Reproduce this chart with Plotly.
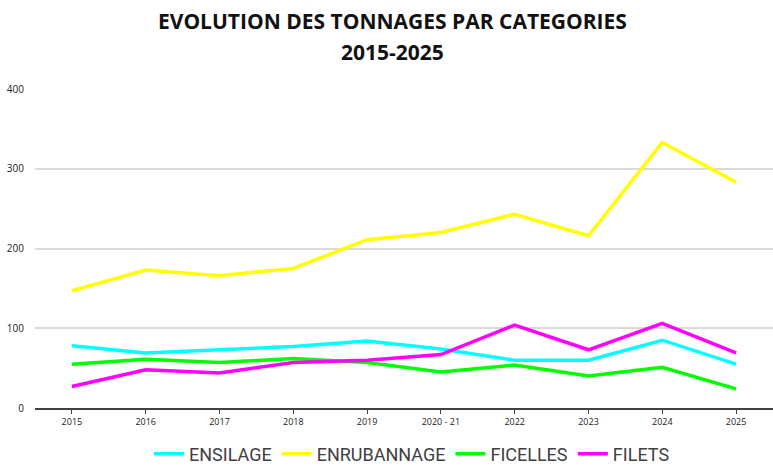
import plotly.graph_objects as go

categories = ["2015", "2016", "2017", "2018", "2019", "2020 - 21", "2022", "2023", "2024", "2025"]
ensilage = [78, 69, 73, 77, 84, 74, 60, 60, 85, 55]
enrubannage = [147, 173, 166, 175, 211, 220, 243, 216, 333, 283]
ficelles = [55, 61, 57, 62, 57, 45, 54, 40, 51, 24]
filets = [27, 48, 44, 57, 60, 67, 104, 73, 106, 69]

series = [
    ("ENSILAGE", ensilage, "#00FFFF"),
    ("ENRUBANNAGE", enrubannage, "#FFFF00"),
    ("FICELLES", ficelles, "#00FF00"),
    ("FILETS", filets, "#FF00FF"),
]

fig = go.Figure()
for name, vals, col in series:
    fig.add_trace(go.Scatter(x=categories, y=vals, name=name, mode="lines",
                             line=dict(color=col, width=3.5)))

plot_h = 466 - 89 - 58
plot_w = 773 - 35

fig.update_layout(
    width=773, height=466,
    margin=dict(l=35, r=0, t=89, b=58, autoexpand=False),
    paper_bgcolor="white", plot_bgcolor="white",
    showlegend=True,
    legend=dict(orientation="h", x=(412 - 35) / plot_w, xanchor="center",
                y=-(454 - 408) / plot_h, yanchor="middle",
                font=dict(family="Roboto", size=18, color="#404040"),
                itemwidth=30, tracegroupgap=0),
    xaxis=dict(type="category", range=[-0.5, 9.5], showgrid=False, automargin=False,
               showline=True, linecolor="#404040", linewidth=1.5,
               ticks="outside", ticklen=4, tickcolor="#404040",
               tickfont=dict(family="Open Sans", size=9, color="#222"),
               fixedrange=True),
    yaxis=dict(range=[0, 400], tickvals=[0, 100, 200, 300, 400], automargin=False,
               showgrid=True, gridcolor="#d9d9d9", gridwidth=1.5,
               zeroline=False, showline=False, ticks="",
               ticklabelstandoff=10,
               tickfont=dict(family="Open Sans", size=10, color="#222")),
    annotations=[
        dict(text="<b>EVOLUTION DES TONNAGES PAR CATEGORIES</b>", xref="paper", yref="paper",
             x=(392 - 35) / plot_w, y=(408 - 20.5) / plot_h, xanchor="center", yanchor="middle",
             showarrow=False, font=dict(family="Open Sans", size=21, color="#111")),
        dict(text="<b>2015-2025</b>", xref="paper", yref="paper",
             x=(392 - 35) / plot_w, y=(408 - 52.5) / plot_h, xanchor="center", yanchor="middle",
             showarrow=False, font=dict(family="Open Sans", size=21, color="#111")),
    ],
)

fig.write_html("out.html", config={"displayModeBar": False},
               post_script="document.body.style.margin='0';")
